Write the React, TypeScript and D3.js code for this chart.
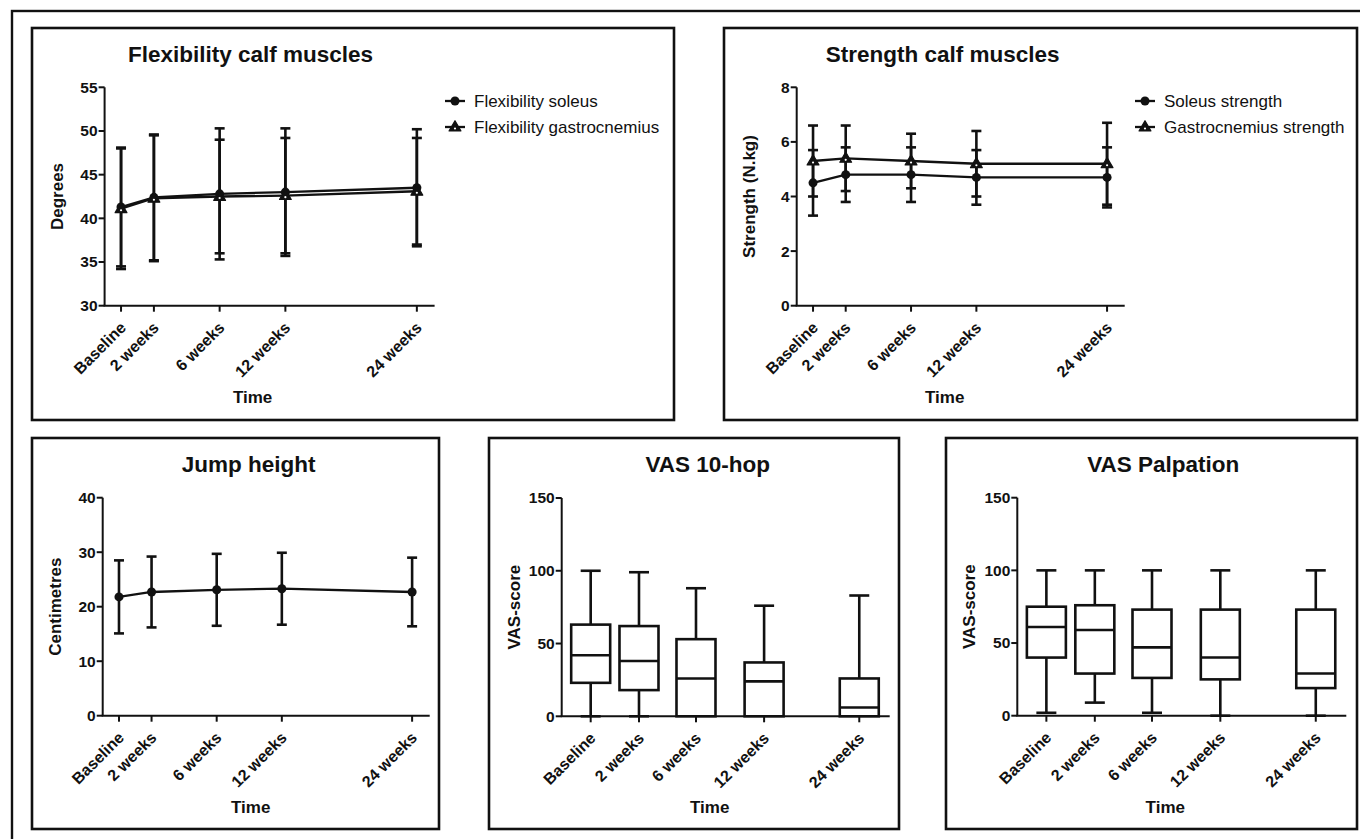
import React from 'react';
import * as d3 from 'd3';

// ---------- data ----------
const timeLabels = ['Baseline', '2 weeks', '6 weeks', '12 weeks', '24 weeks'];
const lineTimePos = [0, 1, 3, 5, 9];
const boxTimePos = [0, 1, 2.18, 3.59, 5.56];

const flexSoleusMean = [41.3, 42.4, 42.8, 43.0, 43.5];
const flexSoleusSD = [6.8, 7.2, 7.5, 7.3, 6.7];
const flexGastroMean = [41.1, 42.3, 42.5, 42.6, 43.1];
const flexGastroSD = [6.9, 7.2, 6.5, 6.6, 6.1];
const flexTicks = [30, 35, 40, 45, 50, 55];

const strSoleusMean = [4.5, 4.8, 4.8, 4.7, 4.7];
const strSoleusSD = [1.2, 1.0, 1.0, 1.0, 1.1];
const strGastroMean = [5.3, 5.4, 5.3, 5.2, 5.2];
const strGastroSD = [1.3, 1.2, 1.0, 1.2, 1.5];
const strTicks = [0, 2, 4, 6, 8];

const jumpMean = [21.8, 22.7, 23.1, 23.3, 22.7];
const jumpSD = [6.7, 6.5, 6.6, 6.6, 6.3];
const jumpTicks = [0, 10, 20, 30, 40];

const hopMin = [0, 0, 0, 0, 0];
const hopQ1 = [23, 18, 0, 0, 0];
const hopMedian = [42, 38, 26, 24, 6];
const hopQ3 = [63, 62, 53, 37, 26];
const hopMax = [100, 99, 88, 76, 83];

const palpMin = [2, 9, 2, 0, 0];
const palpQ1 = [40, 29, 26, 25, 19];
const palpMedian = [61, 59, 47, 40, 29];
const palpQ3 = [75, 76, 73, 73, 73];
const palpMax = [100, 100, 100, 100, 100];
const vasTicks = [0, 50, 100, 150];

// ---------- style ----------
const FONT = '"Liberation Sans", Arial, Helvetica, sans-serif';
const INK = '#111';

type Layout = {
  left: number; top: number; right: number; bottom: number;
  axisX: number; plotTop: number; plotBottom: number; plotW: number;
};

type Series = { mean: number[]; sd: number[]; marker: 'circle' | 'triangle'; label: string };

const circlePath = d3.symbol(d3.symbolCircle, 64)()!;
const trianglePath = d3.symbol(d3.symbolTriangle, 60)()!;

function Marker({ kind, x, y }: { kind: 'circle' | 'triangle'; x: number; y: number }) {
  if (kind === 'circle') {
    return <path d={circlePath} transform={`translate(${x},${y})`} fill={INK} />;
  }
  return (
    <g transform={`translate(${x},${y + 0.5})`}>
      <path d={trianglePath} fill={INK} stroke={INK} strokeWidth={1.2} strokeLinejoin="round" />
      <circle cx={0} cy={1} r={1.1} fill="#fff" />
    </g>
  );
}

function Frame({ L, title, yTitle, yScale, ticks, xScale, xPos }: any) {
  const cx = L.axisX + 146;
  return (
    <g>
      <rect x={L.left} y={L.top} width={L.right - L.left} height={L.bottom - L.top} fill="none" stroke={INK} strokeWidth={2.6} />
      <text x={cx} y={L.top + 34} textAnchor="middle" fontFamily={FONT} fontWeight="bold" fontSize={22.5} fill={INK}>{title}</text>
      {/* y axis */}
      <line x1={L.axisX} x2={L.axisX} y1={yScale(ticks[ticks.length - 1])} y2={L.plotBottom} stroke={INK} strokeWidth={2} />
      {ticks.map((t: number) => (
        <g key={t}>
          <line x1={L.axisX - 6} x2={L.axisX} y1={yScale(t)} y2={yScale(t)} stroke={INK} strokeWidth={2} />
          <text x={L.axisX - 7} y={yScale(t)} dy="0.35em" textAnchor="end" fontFamily={FONT} fontWeight="bold" fontSize={15.5} fill={INK}>{t}</text>
        </g>
      ))}
      {/* x axis */}
      <line x1={L.axisX - 1} x2={L.axisX + L.plotW} y1={L.plotBottom} y2={L.plotBottom} stroke={INK} strokeWidth={2} />
      {xPos.map((p: number, i: number) => {
        const x = xScale(p);
        return (
          <g key={i}>
            <line x1={x} x2={x} y1={L.plotBottom} y2={L.plotBottom + 6} stroke={INK} strokeWidth={2} />
            <text transform={`translate(${x + 2},${L.plotBottom + 19}) rotate(-45)`} dy="0.35em" textAnchor="end" fontFamily={FONT} fontWeight="bold" fontSize={16} fill={INK}>{timeLabels[i]}</text>
          </g>
        );
      })}
      <text x={L.axisX + 148} y={L.plotBottom + 91} dy="0.35em" textAnchor="middle" fontFamily={FONT} fontWeight="bold" fontSize={17} fill={INK}>Time</text>
      <text transform={`translate(${L.axisX - 48},${(L.plotTop + L.plotBottom) / 2}) rotate(-90)`} dy="0.35em" textAnchor="middle" fontFamily={FONT} fontWeight="bold" fontSize={17} fill={INK}>{yTitle}</text>
    </g>
  );
}

function LinePanel({ L, title, yTitle, domain, ticks, series, legendX }: {
  L: Layout; title: string; yTitle: string; domain: [number, number]; ticks: number[]; series: Series[]; legendX?: number;
}) {
  const xScale = d3.scaleLinear().domain([-0.5, 9.54]).range([L.axisX, L.axisX + L.plotW]);
  const yScale = d3.scaleLinear().domain(domain).range([L.plotBottom, L.plotTop]);
  const line = d3.line<number>().x((_, i) => xScale(lineTimePos[i])).y((d) => yScale(d));
  return (
    <g>
      <Frame L={L} title={title} yTitle={yTitle} yScale={yScale} ticks={ticks} xScale={xScale} xPos={lineTimePos} />
      {series.map((s, si) => (
        <path key={'l' + si} d={line(s.mean)!} fill="none" stroke={INK} strokeWidth={2.3} />
      ))}
      {series.map((s, si) => (
        <g key={'e' + si}>
          {s.mean.map((m, i) => {
            const x = xScale(lineTimePos[i]);
            const y1 = yScale(m + s.sd[i]);
            const y2 = yScale(m - s.sd[i]);
            return (
              <g key={i}>
                <line x1={x} x2={x} y1={y1} y2={y2} stroke={INK} strokeWidth={2.6} />
                <line x1={x - 5} x2={x + 5} y1={y1} y2={y1} stroke={INK} strokeWidth={2.6} />
                <line x1={x - 5} x2={x + 5} y1={y2} y2={y2} stroke={INK} strokeWidth={2.6} />
              </g>
            );
          })}
        </g>
      ))}
      {series.map((s, si) => (
        <g key={'m' + si}>
          {s.mean.map((m, i) => (
            <Marker key={i} kind={s.marker} x={xScale(lineTimePos[i])} y={yScale(m)} />
          ))}
        </g>
      ))}
      {legendX !== undefined && series.length > 1 && series.map((s, si) => {
        const y = L.top + 73 + si * 26;
        return (
          <g key={'lg' + si}>
            <line x1={legendX - 10} x2={legendX + 10} y1={y} y2={y} stroke={INK} strokeWidth={2.3} />
            <Marker kind={s.marker} x={legendX} y={y} />
            <text x={legendX + 19} y={y} dy="0.35em" fontFamily={FONT} fontSize={17} fill={INK}>{s.label}</text>
          </g>
        );
      })}
    </g>
  );
}

function BoxPanel({ L, title, mins, q1s, meds, q3s, maxs }: {
  L: Layout; title: string; mins: number[]; q1s: number[]; meds: number[]; q3s: number[]; maxs: number[];
}) {
  const xScale = d3.scaleLinear().domain([-0.6, 6.19]).range([L.axisX, L.axisX + L.plotW]);
  const yScale = d3.scaleLinear().domain([0, 150]).range([L.plotBottom, L.plotTop]);
  const bw = 39;
  const cw = 20;
  const sw = 2.6;
  return (
    <g>
      {meds.map((m, i) => {
        const x = xScale(boxTimePos[i]);
        const yMin = yScale(mins[i]);
        const yQ1 = yScale(q1s[i]);
        const yMed = yScale(m);
        const yQ3 = yScale(q3s[i]);
        const yMax = yScale(maxs[i]);
        return (
          <g key={i}>
            <line x1={x} x2={x} y1={yMax} y2={yQ3} stroke={INK} strokeWidth={sw} />
            <line x1={x - cw / 2} x2={x + cw / 2} y1={yMax} y2={yMax} stroke={INK} strokeWidth={sw} />
            {q1s[i] > mins[i] && (
              <g>
                <line x1={x} x2={x} y1={yQ1} y2={yMin} stroke={INK} strokeWidth={sw} />
                <line x1={x - cw / 2} x2={x + cw / 2} y1={yMin} y2={yMin} stroke={INK} strokeWidth={sw} />
              </g>
            )}
            <rect x={x - bw / 2} y={yQ3} width={bw} height={yQ1 - yQ3} fill="#fff" stroke={INK} strokeWidth={sw} />
            <line x1={x - bw / 2} x2={x + bw / 2} y1={yMed} y2={yMed} stroke={INK} strokeWidth={sw} />
          </g>
        );
      })}
      <Frame L={L} title={title} yTitle="VAS-score" yScale={yScale} ticks={vasTicks} xScale={xScale} xPos={boxTimePos} />
    </g>
  );
}

const L1: Layout = { left: 32, top: 28, right: 674, bottom: 420, axisX: 104.6, plotTop: 87.3, plotBottom: 305.7, plotW: 330 };
const L2: Layout = { left: 724, top: 28, right: 1357, bottom: 420, axisX: 796.7, plotTop: 87.3, plotBottom: 305.7, plotW: 328 };
const L3: Layout = { left: 32, top: 438, right: 439, bottom: 829, axisX: 102.7, plotTop: 497.7, plotBottom: 715.7, plotW: 327 };
const L4: Layout = { left: 489, top: 438, right: 899, bottom: 829, axisX: 561.7, plotTop: 498, plotBottom: 716.3, plotW: 328 };
const L5: Layout = { left: 946, top: 438, right: 1357, bottom: 829, axisX: 1017.3, plotTop: 497.7, plotBottom: 715.7, plotW: 329 };

export default function App() {
  return (
    <svg width={1360} height={839} viewBox="0 0 1360 839" style={{ position: 'absolute', left: 0, top: 0, background: '#fff' }}>
      <rect x={0} y={0} width={1360} height={839} fill="#fff" />
      <rect x={12} y={11} width={1400} height={900} fill="none" stroke={INK} strokeWidth={2.4} />
      <LinePanel
        L={L1}
        title="Flexibility calf muscles"
        yTitle="Degrees"
        domain={[30, 55]}
        ticks={flexTicks}
        legendX={455}
        series={[
          { mean: flexSoleusMean, sd: flexSoleusSD, marker: 'circle', label: 'Flexibility soleus' },
          { mean: flexGastroMean, sd: flexGastroSD, marker: 'triangle', label: 'Flexibility gastrocnemius' },
        ]}
      />
      <LinePanel
        L={L2}
        title="Strength calf muscles"
        yTitle="Strength (N.kg)"
        domain={[0, 8]}
        ticks={strTicks}
        legendX={1145}
        series={[
          { mean: strSoleusMean, sd: strSoleusSD, marker: 'circle', label: 'Soleus strength' },
          { mean: strGastroMean, sd: strGastroSD, marker: 'triangle', label: 'Gastrocnemius strength' },
        ]}
      />
      <LinePanel
        L={L3}
        title="Jump height"
        yTitle="Centimetres"
        domain={[0, 40]}
        ticks={jumpTicks}
        series={[{ mean: jumpMean, sd: jumpSD, marker: 'circle', label: 'Jump height' }]}
      />
      <BoxPanel L={L4} title="VAS 10-hop" mins={hopMin} q1s={hopQ1} meds={hopMedian} q3s={hopQ3} maxs={hopMax} />
      <BoxPanel L={L5} title="VAS Palpation" mins={palpMin} q1s={palpQ1} meds={palpMedian} q3s={palpQ3} maxs={palpMax} />
    </svg>
  );
}
